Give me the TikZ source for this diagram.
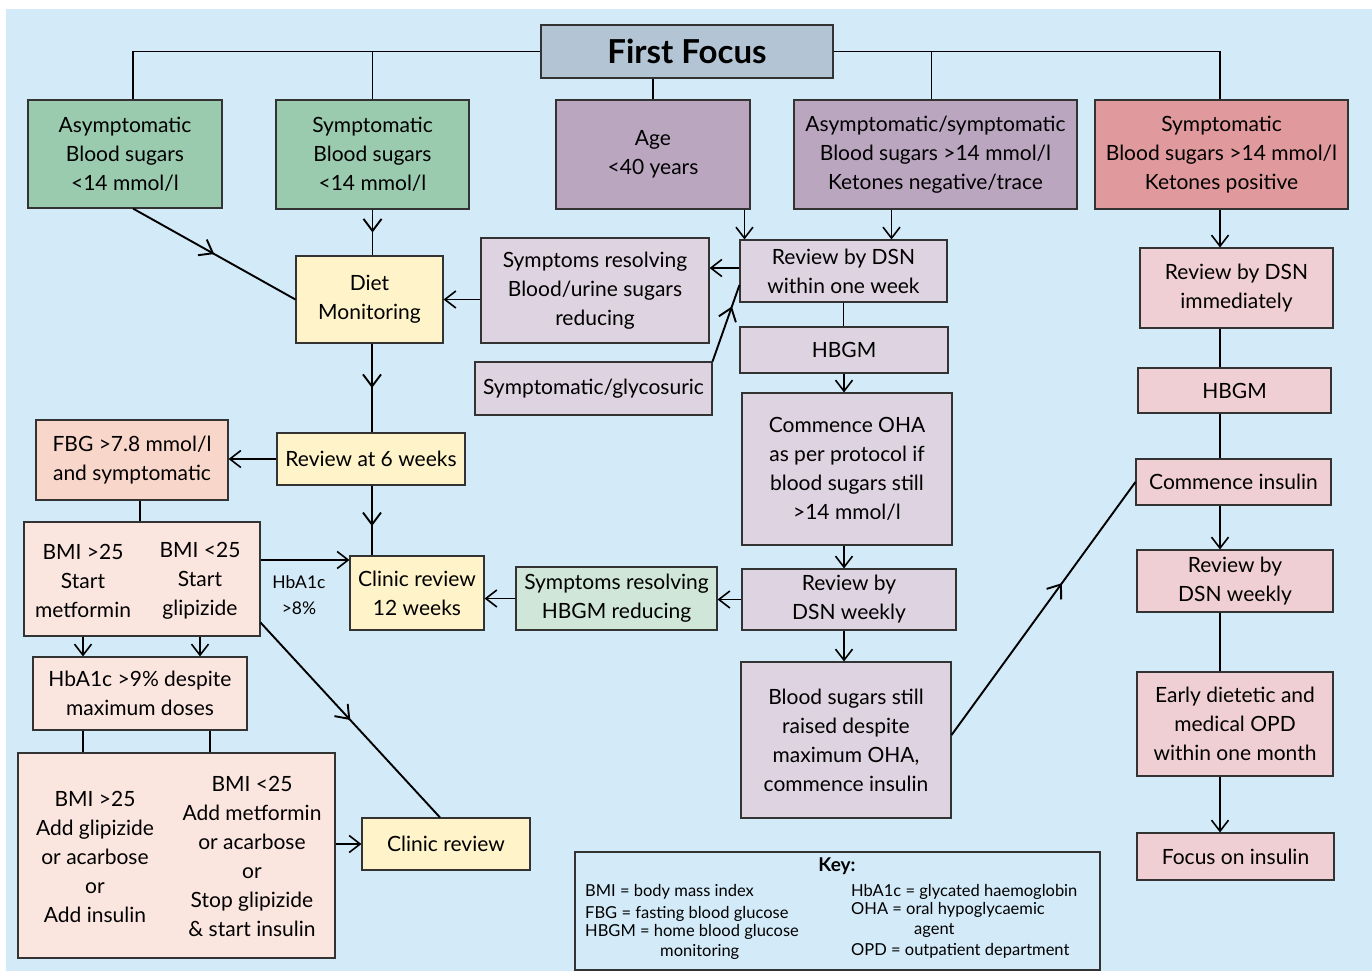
\documentclass[tikz,border=0pt]{standalone}
\usepackage{fontspec}
\setmainfont{Lato}
\usepackage{tikz}
\usetikzlibrary{arrows.meta,calc,positioning,decorations.markings}
\definecolor{Sky}{HTML}{D3EAF8}
\definecolor{Slate}{HTML}{B3C4D4}
\definecolor{Sage}{HTML}{9ACBAF}
\definecolor{Mauve}{HTML}{BBA6C0}
\definecolor{Rose}{HTML}{E0999C}
\definecolor{Lilac}{HTML}{DED3E0}
\definecolor{Blush}{HTML}{EFCFD3}
\definecolor{Cream}{HTML}{FEF3C9}
\definecolor{Salmon}{HTML}{F9D6CA}
\definecolor{Peach}{HTML}{FBE5DF}
\definecolor{Mint}{HTML}{CFE6D8}
\definecolor{Edge}{HTML}{333333}

\tikzset{
  box/.style={draw=Edge, line width=1.1pt, align=center, inner sep=2pt,
    font=\fontsize{21}{29}\selectfont},
  txt/.style={align=center, inner sep=0pt, font=\fontsize{21}{29}\selectfont},
  keytxt/.style={anchor=west, inner sep=0pt, font=\fontsize{16.5}{19}\selectfont},
  plain/.style={line width=1.2pt},
  link/.style={line width=1.2pt, -{Straight Barb[length=11pt,width=17pt,line width=1.6pt]}},
  heavy/.style={line width=1.9pt},
  midtip/.style={postaction={decorate}, decoration={markings,
    mark=at position #1 with {\arrow{Straight Barb[length=12pt,width=18pt,line width=1.9pt]}}}},
}

\begin{document}
\begin{tikzpicture}[x=1pt,y=-1pt]
\useasboundingbox (0,0) rectangle (1372,971);
\fill[Sky] (6,9) rectangle (1372,971);
%
% first row
\node[box, fill=Slate, minimum width=292, minimum height=53,
  font=\fontsize{33}{36}\selectfont\bfseries] (first) at (687,51.5) {First Focus};
\node[box, fill=Sage, minimum width=194, minimum height=108] (asym) at (125,154)
  {Asymptomatic\\Blood sugars\\<14 mmol/l};
\node[box, fill=Sage, minimum width=193, minimum height=109] (sympt) at (372.5,154.5)
  {Symptomatic\\Blood sugars\\<14 mmol/l};
\node[box, fill=Mauve, minimum width=194, minimum height=109] (age) at (653,154.5)
  {Age\\<40 years};
\node[box, fill=Mauve, minimum width=283, minimum height=109] (asymsym) at (935.5,154.5)
  {Asymptomatic/symptomatic\\Blood sugars >14 mmol/l\\Ketones negative/trace};
\node[box, fill=Rose, minimum width=253, minimum height=109] (ketpos) at (1221.5,154.5)
  {Symptomatic\\Blood sugars >14 mmol/l\\Ketones positive};
%
% middle branch
\node[box, fill=Cream, minimum width=147, minimum height=87] (diet) at (369.5,299.5)
  {Diet\\Monitoring};
\node[box, fill=Lilac, minimum width=228, minimum height=105] (resolv) at (595,290.5)
  {Symptoms resolving\\Blood/urine sugars\\reducing};
\node[box, fill=Lilac, minimum width=207, minimum height=62] (dsnweek) at (843.5,271)
  {Review by DSN\\within one week};
\node[box, fill=Lilac, minimum width=237, minimum height=53] (glyco) at (593.5,388.5)
  {Symptomatic/glycosuric};
\node[box, fill=Lilac, minimum width=208, minimum height=46] (hbgm) at (844,350) {HBGM};
\node[box, fill=Lilac, minimum width=210, minimum height=152] (oha) at (847,469)
  {Commence OHA\\as per protocol if\\blood sugars still\\>14 mmol/l};
\node[box, fill=Lilac, minimum width=214, minimum height=61] (dsnwkly) at (849,599.5)
  {Review by\\DSN weekly};
\node[box, fill=Mint, minimum width=201, minimum height=63] (hbgmred) at (616.5,598.5)
  {Symptoms resolving\\HBGM reducing};
\node[box, fill=Cream, minimum width=134, minimum height=74] (clin12) at (417,593)
  {Clinic review\\12 weeks};
\node[box, fill=Lilac, minimum width=210, minimum height=156] (raised) at (846,740)
  {Blood sugars still\\raised despite\\maximum OHA,\\commence insulin};
%
% right branch
\node[box, fill=Blush, minimum width=193, minimum height=80] (dsnimm) at (1236.5,288)
  {Review by DSN\\immediately};
\node[box, fill=Blush, minimum width=193, minimum height=45] (hbgmr) at (1234.5,390.5) {HBGM};
\node[box, fill=Blush, minimum width=195, minimum height=46] (insul) at (1233.5,482)
  {Commence insulin};
\node[box, fill=Blush, minimum width=196, minimum height=62] (dsnwr) at (1235,581)
  {Review by\\DSN weekly};
\node[box, fill=Blush, minimum width=196, minimum height=104] (opd) at (1235,724)
  {Early dietetic and\\medical OPD\\within one month};
\node[box, fill=Blush, minimum width=197, minimum height=47] (focus) at (1235.5,856.5)
  {Focus on insulin};
%
% left branch
\node[box, fill=Cream, minimum width=188, minimum height=52] (rev6) at (371,459)
  {Review at 6 weeks};
\node[box, fill=Salmon, minimum width=192, minimum height=80] (fbg) at (132,460)
  {FBG >7.8 mmol/l\\and symptomatic};
\node[box, fill=Peach, minimum width=236, minimum height=114] (bmi) at (142,579) {};
\node[txt] (bmiL) at (83,581) {BMI >25\\Start\\metformin};
\node[txt] (bmiR) at (200,581) {BMI <25\\Start\\glipizide};
\node[box, fill=Peach, minimum width=214, minimum height=73] (hba9) at (140,693.5)
  {HbA1c >9\% despite\\maximum doses};
\node[box, fill=Peach, minimum width=317, minimum height=205] (add) at (176.5,855.5) {};
\node[txt] (addL) at (95,857) {BMI >25\\Add glipizide\\or acarbose\\or\\Add insulin};
\node[txt] (addR) at (252,856) {BMI <25\\Add metformin\\or acarbose\\or\\Stop glipizide\\\& start insulin};
\node[box, fill=Cream, minimum width=168, minimum height=52] (clin) at (446,844)
  {Clinic review};
\node[align=center, inner sep=0pt, font=\fontsize{17.5}{26}\selectfont] (hba8) at (299,595)
  {HbA1c\\>8\%};
%
% key
\node[draw=Edge, line width=1.1pt, minimum width=525, minimum height=118] (key) at (837.5,911) {};
\node[font=\fontsize{19}{20}\selectfont\bfseries, inner sep=0pt] (keyhead) at (837,866) {Key:};
\node[keytxt] (k1) at (585,892) {BMI = body mass index};
\node[keytxt] (k2) at (585,914) {FBG = fasting blood glucose};
\node[keytxt] (k3) at (585,932) {HBGM = home blood glucose};
\node[keytxt] (k4) at (660,952) {monitoring};
\node[keytxt] (k5) at (851,892) {HbA1c = glycated haemoglobin};
\node[keytxt] (k6) at (851,910) {OHA = oral hypoglycaemic};
\node[keytxt] (k7) at (914,930) {agent};
\node[keytxt] (k8) at (851,951) {OPD = outpatient department};
%
% connectors
\coordinate (lc) at (372,0);
\coordinate (rc) at (1220,0);
\coordinate (dA) at ([xshift=5pt]dsnweek.north west);
\coordinate (dB) at ([xshift=48pt]dsnweek.north);
\draw[plain] (first.west) -| ([xshift=8pt]asym.north);
\draw[plain] (first.west -| sympt.north) -- (sympt.north);
\draw[plain] (age.north |- first.south) -- (age.north);
\draw[plain] (first.east) -| ([xshift=-4pt]asymsym.north);
\draw[plain] (first.east) -| (rc |- ketpos.north);
%
\draw[heavy, midtip=0.5] ([xshift=8pt]asym.south) -- (diet.west);
\draw[plain, midtip=0.5] (sympt.south) -- (sympt.south |- diet.north);
\draw[link] (age.south -| dA) -- (dA);
\draw[link] (asymsym.south -| dB) -- (dB);
\draw[link] ([yshift=3pt]dsnweek.west) -- ([yshift=3pt]dsnweek.west -| resolv.east);
\draw[link] (resolv.west |- diet.east) -- (diet.east);
\draw[heavy, midtip=0.72] (glyco.north east) -- ([yshift=-14pt]dsnweek.west);
\draw[plain] (dsnweek.south) -- (dsnweek.south |- hbgm.north);
\draw[link] (hbgm.south) -- (hbgm.south |- oha.north);
\draw[link] (hbgm.south |- oha.south) -- (hbgm.south |- dsnwkly.north);
\draw[link] (dsnwkly.west) -- (dsnwkly.west -| hbgmred.east);
\draw[link] (hbgmred.west) -- (hbgmred.west -| clin12.east);
\draw[link] (hbgm.south |- dsnwkly.south) -- (hbgm.south |- raised.north);
\draw[heavy, midtip=0.6] ([yshift=5pt]raised.east) -- (insul.west);
%
\draw[link] (rc |- ketpos.south) -- (rc |- dsnimm.north);
\draw[plain] (rc |- dsnimm.south) -- (rc |- hbgmr.north);
\draw[plain] (rc |- hbgmr.south) -- (rc |- insul.north);
\draw[link] (rc |- insul.south) -- (rc |- dsnwr.north);
\draw[plain] (rc |- dsnwr.south) -- (rc |- opd.north);
\draw[link] (rc |- opd.south) -- (rc |- focus.north);
%
\draw[plain, midtip=0.5] (lc |- diet.south) -- (lc |- rev6.north);
\draw[plain, midtip=0.58] (lc |- rev6.south) -- (lc |- clin12.north);
\draw[link] (rev6.west) -- (rev6.west -| fbg.east);
\draw[plain] (140,0 |- fbg.south) -- (140,0 |- bmi.north);
\draw[link] ([yshift=19pt]bmi.east) -- ([yshift=19pt]bmi.east -| clin12.west);
\draw[link] (bmiL.south |- bmi.south) -- (bmiL.south |- hba9.north);
\draw[link] (bmiR.south |- bmi.south) -- (bmiR.south |- hba9.north);
\draw[plain] (bmiL.south |- hba9.south) -- (bmiL.south |- add.north);
\draw[plain] ([xshift=10pt]bmiR.south |- hba9.south) -- ([xshift=10pt]bmiR.south |- add.north);
\draw[link] (add.east |- clin.west) -- (clin.west);
\draw[heavy, midtip=0.5] ([yshift=14pt]bmi.south east) -- ([xshift=-6pt]clin.north);
\end{tikzpicture}
\end{document}
